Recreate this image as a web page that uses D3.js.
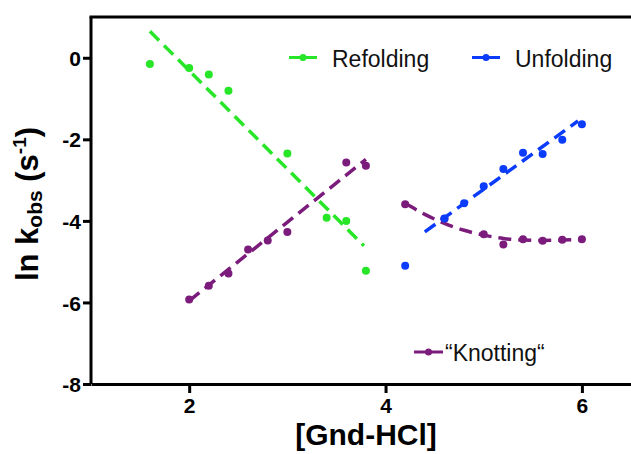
<!DOCTYPE html>
<html>
<head>
<meta charset="utf-8">
<script src="https://cdn.jsdelivr.net/npm/d3@7"></script>
<style>
  body { margin: 0; background: #fff; }
  svg { display: block; font-family: "Liberation Sans", Arial, sans-serif; }
</style>
</head>
<body>
<div id="figure"></div>
<script>
// data
var refoldX = [1.6, 2.0, 2.2, 2.4, 3.0, 3.4, 3.6, 3.8];
var refoldY = [-0.15, -0.25, -0.41, -0.81, -2.35, -3.92, -4.0, -5.22];
var refoldFitX = [1.6, 3.78];
var refoldFitY = [0.65, -4.61];

var unfoldX = [4.2, 4.6, 4.8, 5.0, 5.2, 5.4, 5.6, 5.8, 6.0];
var unfoldY = [-5.10, -3.94, -3.57, -3.15, -2.73, -2.33, -2.36, -2.01, -1.63];
var unfoldFitX = [4.4, 5.96];
var unfoldFitY = [-4.27, -1.55];

var knotLowX = [2.0, 2.2, 2.4, 2.6, 2.8, 3.0, 3.6, 3.8];
var knotLowY = [-5.93, -5.59, -5.29, -4.70, -4.48, -4.27, -2.57, -2.65];
var knotLowFitX = [2.0, 3.8];
var knotLowFitY = [-5.96, -2.49];

var knotHighX = [4.2, 4.6, 5.0, 5.2, 5.4, 5.6, 5.8, 6.0];
var knotHighY = [-3.59, -3.95, -4.33, -4.58, -4.45, -4.49, -4.46, -4.45];
var knotHighFitX = [4.2, 4.4, 4.6, 4.8, 5.0, 5.2, 5.4, 5.6, 5.8, 6.0];
var knotHighFitY = [-3.57, -3.84, -4.06, -4.23, -4.35, -4.43, -4.47, -4.48, -4.47, -4.46];

var xTicks = [2, 4, 6];
var yTicks = [0, -2, -4, -6, -8];

var green = "#27e527";
var blue = "#0b3cfb";
var purple = "#7b1c7d";

const margin = { top: 17, right: 0, bottom: 70, left: 91 };
var width = 631 - margin.left - margin.right;
var height = 454 - margin.top - margin.bottom;

var svg = d3.select("#figure")
    .append("svg")
    .attr("width", 631)
    .attr("height", 454)
    .append("g")
    .attr("transform", `translate(${margin.left},${margin.top})`);

var x = d3.scaleLinear().domain([1, 6.5]).range([0, width]);
var y = d3.scaleLinear().domain([-8, 1]).range([height, 0]);

function zip(xs, ys) { return xs.map((v, i) => [v, ys[i]]); }

var line = d3.line().x(d => x(d[0])).y(d => y(d[1]));
var curve = d3.line().x(d => x(d[0])).y(d => y(d[1])).curve(d3.curveMonotoneX);

// axes
var xAxis = svg.append("g")
    .attr("transform", `translate(0,${height})`)
    .call(d3.axisBottom(x).tickValues(xTicks).tickFormat(d => String(d))
        .tickSize(9).tickSizeOuter(0).tickPadding(5));
var yAxis = svg.append("g")
    .call(d3.axisLeft(y).tickValues(yTicks).tickFormat(d => String(d))
        .tickSize(8).tickSizeOuter(0).tickPadding(2));

[xAxis, yAxis].forEach(function (a) {
    a.select(".domain").attr("stroke", "#000").attr("stroke-width", 3);
    a.selectAll(".tick line").attr("stroke", "#000").attr("stroke-width", 3);
    a.selectAll(".tick text")
        .attr("fill", "#000")
        .style("font-size", "21px")
        .style("font-weight", "bold")
        .style("font-family", "'Liberation Sans', Arial, sans-serif");
});
yAxis.selectAll(".tick text").attr("dy", "0.36em");
// full y axis line through the top
yAxis.select(".domain").attr("d", `M0,${height}V0`);

// top frame line
svg.append("line")
    .attr("x1", -1.5).attr("x2", width)
    .attr("y1", 0).attr("y2", 0)
    .attr("stroke", "#000").attr("stroke-width", 3);

// fits
function fit(xs, ys, color, gen) {
    svg.append("path")
        .datum(zip(xs, ys))
        .attr("d", gen)
        .attr("fill", "none")
        .attr("stroke", color)
        .attr("stroke-width", 3.5)
        .attr("stroke-dasharray", "13,7");
}
function dots(xs, ys, color) {
    svg.append("g").selectAll("circle")
        .data(zip(xs, ys))
        .join("circle")
        .attr("cx", d => x(d[0]))
        .attr("cy", d => y(d[1]))
        .attr("r", 4)
        .attr("fill", color);
}

fit(refoldFitX, refoldFitY, green, line);
fit(knotLowFitX, knotLowFitY, purple, line);
fit(knotHighFitX, knotHighFitY, purple, curve);
fit(unfoldFitX, unfoldFitY, blue, line);

dots(refoldX, refoldY, green);
dots(knotLowX, knotLowY, purple);
dots(knotHighX, knotHighY, purple);
dots(unfoldX, unfoldY, blue);

// legends
var legend = [
    { name: "Refolding", color: green, x1: 289, x2: 317, ty: 57.5, tx: 332 },
    { name: "Unfolding", color: blue, x1: 472, x2: 500, ty: 57.5, tx: 515 },
    { name: "\u201CKnotting\u201C", color: purple, x1: 414, x2: 443, ty: 352, tx: 445 }
];
var lg = d3.select("svg").append("g");
legend.forEach(function (l) {
    lg.append("line")
        .attr("x1", l.x1).attr("x2", l.x2)
        .attr("y1", l.ty).attr("y2", l.ty)
        .attr("stroke", l.color).attr("stroke-width", 3);
    lg.append("circle")
        .attr("cx", (l.x1 + l.x2) / 2).attr("cy", l.ty)
        .attr("r", 3.5).attr("fill", l.color);
    lg.append("text")
        .attr("x", l.tx).attr("y", l.ty + 9)
        .style("font-size", "23px")
        .attr("fill", "#111")
        .text(l.name);
});

// axis titles
d3.select("svg").append("text")
    .attr("x", 366)
    .attr("y", 445)
    .attr("text-anchor", "middle")
    .style("font-size", "30px")
    .style("font-weight", "bold")
    .text("[Gnd-HCl]");

var yt = d3.select("svg").append("text")
    .attr("transform", "translate(38,204) rotate(-90)")
    .attr("text-anchor", "middle")
    .style("font-size", "31px")
    .style("font-weight", "bold");
yt.append("tspan").text("ln k");
yt.append("tspan").attr("dy", 4).style("font-size", "21px").text("obs");
yt.append("tspan").attr("dy", -4).text(" (s");
yt.append("tspan").attr("dy", -12).style("font-size", "19px").text("-1");
yt.append("tspan").attr("dy", 12).text(")");
</script>
</body>
</html>
